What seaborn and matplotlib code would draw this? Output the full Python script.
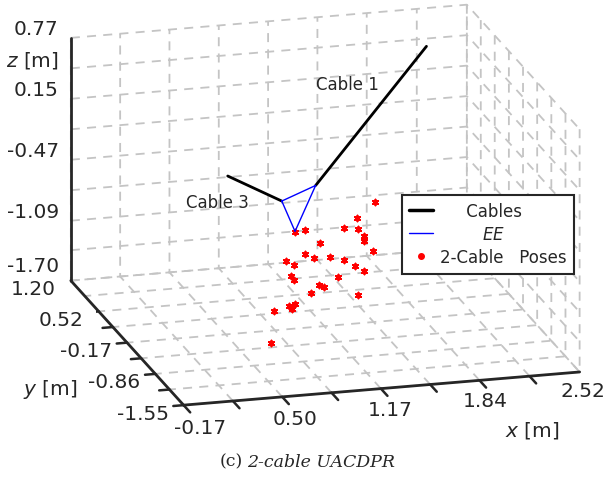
import matplotlib
matplotlib.use("Agg")
import matplotlib.pyplot as plt
import seaborn as sns
from matplotlib.lines import Line2D
from mpl_toolkits.mplot3d import proj3d

# poses reached with two cables (EE reference point) [m]
pose_x = [1.28, 1.16, 1.07, 1.17, 1.21, 1.21, 0.81, 0.74, 0.91, 1.27,
          0.81, 0.87, 0.98, 1.07, 1.15, 1.21, 0.68, 0.73, 1.03, 0.71,
          0.73, 0.90, 0.94, 0.85, 1.17, 0.70, 0.74, 0.72, 0.60, 0.58]
pose_y = [-1.0, -1.0, -1.0, -1.0, -1.0, -1.0, -1.0, -1.0, -1.0, -1.0,
          -1.0, -1.0, -1.0, -1.0, -1.0, -1.0, -1.0, -1.0, -1.0, -1.0,
          -1.0, -1.0, -1.0, -1.0, -1.0, -1.0, -1.0, -1.0, -1.0, -1.0]
pose_z = [-0.07, -0.22, -0.31, -0.33, -0.41, -0.46, -0.29, -0.31, -0.44, -0.57,
          -0.54, -0.59, -0.59, -0.63, -0.70, -0.76, -0.59, -0.64, -0.80, -0.75,
          -0.79, -0.87, -0.89, -0.94, -1.00, -1.05, -1.04, -1.09, -1.09, -1.42]

# end-effector triangle vertices (closed)
ee_x = [0.65, 0.88, 0.74, 0.65]
ee_y = [-1.0, -1.0, -1.0, -1.0]
ee_z = [0.02, 0.15, -0.30, 0.02]

# cables: attachment point on EE -> anchor
cable1_x = [0.88, 2.19]
cable1_y = [-1.0, 1.0]
cable1_z = [0.15, 0.48]
cable3_x = [0.65, 0.84]
cable3_y = [-1.0, 1.0]
cable3_z = [0.02, -0.67]

x_ticks = [-0.17, 0.165, 0.50, 0.835, 1.17, 1.505, 1.84, 2.18, 2.52]
x_labels = ['-0.17', '', '0.50', '', '1.17', '', '1.84', '', '2.52']
y_ticks = [-1.55, -1.205, -0.86, -0.515, -0.17, 0.175, 0.52, 0.86, 1.20]
y_labels = ['-1.55', '', '-0.86', '', '-0.17', '', '0.52', '', '1.20']
z_ticks = [-1.70, -1.39, -1.09, -0.78, -0.47, -0.16, 0.15, 0.46, 0.77]
z_labels = ['-1.70', '', '-1.09', '', '-0.47', '', '0.15', '$z$ [m]', '0.77']

XMIN, XMAX = -0.17, 2.52
YMIN, YMAX = -1.55, 1.20
ZMIN, ZMAX = -1.70, 0.77
AX_COLOR = '#262626'

sns.set_style("white")
plt.rcParams['font.family'] = ['DejaVu Sans']
plt.rcParams['mathtext.fontset'] = 'dejavusans'

fig = plt.figure(figsize=(6.08, 4.85), dpi=100)
ax = fig.add_axes([0.025, 0.103, 1.0, 0.92], projection='3d', proj_type='ortho')
ax.view_init(elev=17.7, azim=-105.4)
ax.set_box_aspect((411, 425, 255), zoom=1.40)

ax.plot(cable1_x, cable1_y, cable1_z, color='black', lw=2)
ax.plot(cable3_x, cable3_y, cable3_z, color='black', lw=2)
ax.plot(ee_x, ee_y, ee_z, color='blue', lw=1)
ax.scatter(pose_x, pose_y, pose_z, marker=(6, 2, 0), s=18, color='red',
           linewidths=1.3, depthshade=False)

ax.set_xlim(XMIN, XMAX, view_margin=0)
ax.set_ylim(YMIN, YMAX, view_margin=0)
ax.set_zlim(ZMIN, ZMAX, view_margin=0)
ax.set_xticks(x_ticks)
ax.set_yticks(y_ticks)
ax.set_zticks(z_ticks)
ax.xaxis.set_ticklabels([])
ax.yaxis.set_ticklabels([])
ax.zaxis.set_ticklabels([])

for axis in (ax.xaxis, ax.yaxis, ax.zaxis):
    axis.set_pane_color((1, 1, 1, 1))
    axis.pane.set_edgecolor('white')
    axis.line.set_color(AX_COLOR)
    axis.line.set_linewidth(2)
    axis._axinfo['grid'].update(color='#c4c4c4', linestyle=(0, (5, 4)), linewidth=1.3)
    axis._axinfo['tick'].update(inward_factor=0.0, outward_factor=0.0)

# MATLAB-like tick marks
tick_kw = dict(color=AX_COLOR, lw=1.8)
for zt in z_ticks:
    ax.plot([XMIN, XMIN], [YMAX, YMAX + 0.17], [zt, zt], **tick_kw)
for yt in y_ticks:
    ax.plot([XMIN, XMIN - 0.07], [yt, yt], [ZMIN, ZMIN], **tick_kw)
for xt in x_ticks:
    ax.plot([xt, xt], [YMIN, YMIN - 0.16], [ZMIN, ZMIN], **tick_kw)

# tick labels: project the tick points to 2D and annotate
fig.canvas.draw()
M = ax.get_proj()


def tick_label(x, y, z, text, dx, dy, ha):
    px, py, _ = proj3d.proj_transform(x, y, z, M)
    ax.annotate(text, (px, py), xytext=(dx, dy), textcoords='offset pixels',
                ha=ha, va='center', fontsize=14.5, color=AX_COLOR,
                annotation_clip=False)


for zt, lab in zip(z_ticks, z_labels):
    if lab:
        # bottom label sits a bit higher so it clears the y-axis label below it
        tick_label(XMIN, YMAX, zt, lab, -12, 15 if zt == ZMIN else 9, 'right')
for yt, lab in zip(y_ticks, y_labels):
    if lab:
        tick_label(XMIN, yt, ZMIN, lab, -15, -8, 'right')
for xt, lab in zip(x_ticks, x_labels):
    if lab:
        frac = (xt - XMIN) / (XMAX - XMIN)
        tick_label(xt, YMIN, ZMIN, lab, 16 - 13 * frac, -22 + 3 * frac, 'center')

fig.text(0.572, 0.825, 'Cable 1', ha='center', va='center', fontsize=12)
fig.text(0.357, 0.581, 'Cable 3', ha='center', va='center', fontsize=12)
fig.text(0.082, 0.196, '$y$ [m]', ha='center', va='center', fontsize=14.5, color=AX_COLOR)
fig.text(0.875, 0.112, '$x$ [m]', ha='center', va='center', fontsize=14.5, color=AX_COLOR)

handles = [Line2D([], [], color='black', lw=2.5),
           Line2D([], [], color='blue', lw=1),
           Line2D([], [], color='red', marker='o', ms=4, ls='none')]
leg = fig.legend(handles, ['     Cables', '        $EE$', '2-Cable   Poses'],
                 loc='upper left', bbox_to_anchor=(0.647, 0.614),
                 fontsize=12, fancybox=False, framealpha=1, edgecolor=AX_COLOR,
                 handlelength=1.45, handletextpad=0.4, borderpad=0.45,
                 labelspacing=0.3)
leg.get_frame().set_linewidth(1.5)

fig.text(0.400, 0.047, '(c)', ha='right', va='center', fontsize=12.5, family='DejaVu Serif')
fig.text(0.406, 0.047, '2-cable UACDPR', ha='left', va='center', fontsize=12.5,
         family='DejaVu Serif', style='italic')

fig.savefig('out.png', dpi=100)
